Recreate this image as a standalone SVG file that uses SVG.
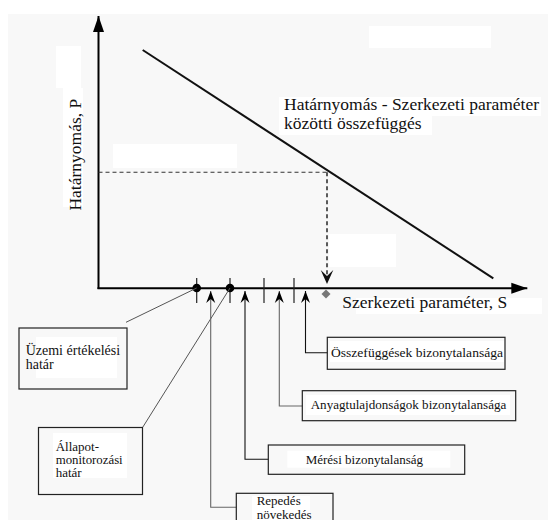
<svg xmlns="http://www.w3.org/2000/svg" width="548" height="520" viewBox="0 0 548 520">
<defs>
<style>
text{font-family:"Liberation Serif","Times New Roman","DejaVu Serif",serif;fill:#111}
.big{font-size:17.5px}
.sm{font-size:13px}
.xs{font-size:12px}
.box{fill:none;stroke:#222;stroke-width:1.2}
.wh{fill:#fff}
.conn{fill:none;stroke:#111;stroke-width:1.1}
.connG{fill:none;stroke:#666;stroke-width:1.1}
.lead{fill:none;stroke:#555;stroke-width:1}
</style>
<marker id="up" viewBox="-13 -6 14 12" refX="0" refY="0" markerWidth="14" markerHeight="12" markerUnits="userSpaceOnUse" orient="auto-start-reverse">
<path d="M0,0 L-12,-4.5 L-8,0 L-12,4.5 z" fill="#000"/>
</marker>
<marker id="axis" viewBox="-17 -6 18 12" refX="0" refY="0" markerWidth="18" markerHeight="12" markerUnits="userSpaceOnUse" orient="auto">
<path d="M0,0 L-16,-5.5 L-16,5.5 z" fill="#000"/>
</marker>
<marker id="dn" viewBox="-15 -7 16 14" refX="0" refY="0" markerWidth="16" markerHeight="14" markerUnits="userSpaceOnUse" orient="auto">
<path d="M0,0 L-14,-6.3 L-8,0 L-14,6.3 z" fill="#111"/>
</marker>
</defs>
<rect x="8" y="14" width="540" height="506" fill="#f8f8f8"/>
<g id="whites">
<rect class="wh" x="369" y="26" width="122" height="22"/>
<rect class="wh" x="56" y="46" width="25" height="42"/>
<rect class="wh" x="63" y="88" width="20" height="119"/>
<rect class="wh" x="113" y="144" width="124" height="24"/>
<rect class="wh" x="329" y="234" width="67" height="33"/>
<rect class="wh" x="279" y="97" width="262" height="19"/>
<rect class="wh" x="279" y="116" width="153" height="19"/>
<rect class="wh" x="356" y="298" width="186" height="16"/>
</g>
<g id="axes">
<path d="M98.5,289 V16" stroke="#000" stroke-width="2" fill="none" marker-end="url(#axis)"/>
<path d="M97.5,288.3 H527.3" stroke="#000" stroke-width="2" fill="none" marker-end="url(#axis)"/>
<text class="big" transform="translate(80.7,154.7) rotate(-90)" text-anchor="middle">Határnyomás, P</text>
<text class="big" x="342.3" y="308.3">Szerkezeti paraméter, S</text>
</g>
<g id="curve">
<path d="M142.7,50 L493.3,278.3" stroke="#111" stroke-width="2" fill="none"/>
<text class="big" x="284" y="110">Határnyomás - Szerkezeti paraméter</text>
<text class="big" x="284" y="129">közötti összefüggés</text>
</g>
<g id="projection">
<path d="M98.5,172.3 H327" stroke="#333" stroke-width="1.1" stroke-dasharray="4,3" fill="none"/>
<path d="M327,172.3 V284" stroke="#333" stroke-width="1.6" stroke-dasharray="4,3" fill="none" marker-end="url(#dn)"/>
<path d="M326,289.5 L330.5,294 L326,298.5 L321.5,294 z" fill="#777"/>
</g>
<g id="ticks" stroke="#222" stroke-width="1.2">
<line x1="196.7" y1="278" x2="196.7" y2="303"/>
<line x1="230" y1="278" x2="230" y2="303"/>
<line x1="264" y1="278" x2="264" y2="303"/>
<line x1="294" y1="278" x2="294" y2="303"/>
<circle cx="196.7" cy="288" r="4.3" fill="#000" stroke="none"/>
<circle cx="230" cy="288" r="4.3" fill="#000" stroke="none"/>
</g>
<g id="connectors">
<path class="lead" d="M196.7,288 L126,322.3"/>
<path class="lead" d="M230,288 L142.7,427.3"/>
<path class="connG" d="M210.7,291 V507.3 H236.3" marker-start="url(#up)"/>
<path class="conn" d="M245,291 V459.3 H268.3" marker-start="url(#up)"/>
<path class="connG" d="M279.3,291 V406 H302.3" marker-start="url(#up)"/>
<path class="conn" d="M305.5,291 V352.7 H327.3" marker-start="url(#up)"/>
</g>
<g id="uzemi">
<rect class="box" x="19" y="328" width="108" height="61"/>
<rect class="wh" x="36" y="337" width="81" height="41"/>
<text font-size="14" x="25.7" y="355">Üzemi értékelési</text>
<text font-size="14" x="25.7" y="369.3">határ</text>
</g>
<g id="allapot">
<rect class="box" x="38.5" y="427.5" width="104" height="67"/>
<rect class="wh" x="53" y="433" width="74" height="45"/>
<text class="xs" x="55.7" y="450.7" textLength="43.3" lengthAdjust="spacingAndGlyphs">Állapot-</text>
<text class="xs" x="55.7" y="464" textLength="67" lengthAdjust="spacingAndGlyphs">monitorozási</text>
<text class="xs" x="55.7" y="477.3" textLength="26" lengthAdjust="spacingAndGlyphs">határ</text>
</g>
<g id="repedes">
<rect class="box" x="236.3" y="493.3" width="96.7" height="40"/>
<rect class="wh" x="252" y="496" width="58" height="24"/>
<text class="xs" x="256.7" y="505.2" textLength="44" lengthAdjust="spacingAndGlyphs">Repedés</text>
<text class="xs" x="256.7" y="518.5" textLength="55" lengthAdjust="spacingAndGlyphs">növekedés</text>
</g>
<g id="meresi">
<rect class="box" x="268.3" y="445" width="196.4" height="29.3"/>
<rect class="wh" x="287.3" y="450.7" width="163" height="17"/>
<text class="sm" x="305.7" y="463.5">Mérési bizonytalanság</text>
</g>
<g id="anyag">
<rect class="box" x="302.3" y="390.7" width="213.4" height="30"/>
<rect class="wh" x="306" y="395" width="204" height="20"/>
<text class="sm" x="310.7" y="408.8" textLength="195.6" lengthAdjust="spacingAndGlyphs">Anyagtulajdonságok bizonytalansága</text>
</g>
<g id="osszef">
<rect class="box" x="327.3" y="337.3" width="177.7" height="32"/>
<rect class="wh" x="330" y="341" width="174" height="21"/>
<text font-size="13.5" x="331" y="356.7" textLength="172" lengthAdjust="spacingAndGlyphs">Összefüggések bizonytalansága</text>
</g>
</svg>
